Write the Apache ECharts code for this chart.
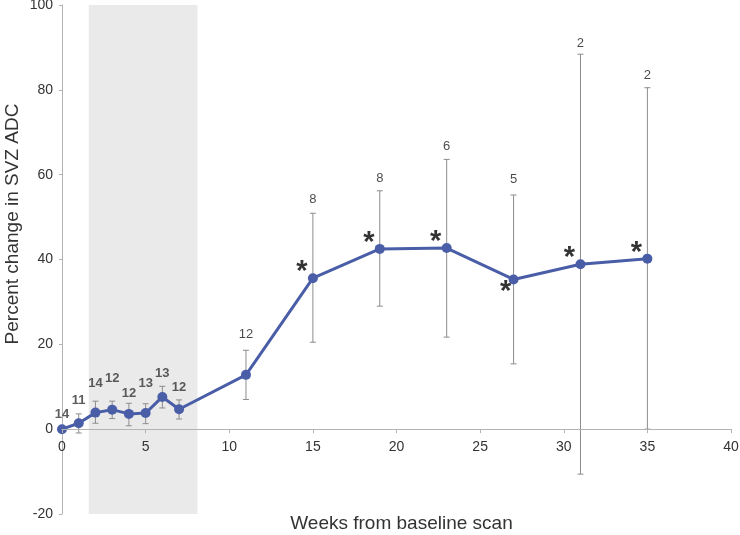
<!DOCTYPE html>
<html><head><meta charset="utf-8">
<script src="https://cdn.jsdelivr.net/npm/echarts@6/dist/echarts.min.js"></script>
<style>html,body{margin:0;padding:0;background:#fff}#c{width:740px;height:535px}</style>
</head><body><div id="c"></div>
<script>
// ---- data ----
const weeks        = [0, 1, 2, 3, 4, 5, 6, 7, 11, 15, 19, 23, 27, 31, 35];
const meanChange   = [0, 1.4, 3.9, 4.6, 3.6, 3.8, 7.6, 4.7, 12.8, 35.6, 42.5, 42.7, 35.3, 38.9, 40.2];
const errLow       = [0, -0.9, 1.4, 2.5, 0.8, 1.3, 5.0, 2.4, 7.0, 20.5, 29.0, 21.7, 15.4, -10.6, 0];
const errHigh      = [0, 3.6, 6.6, 6.6, 6.1, 6.0, 10.1, 6.9, 18.6, 50.9, 56.2, 63.6, 55.2, 88.4, 80.5];
const nSubjects    = [14, 11, 14, 12, 12, 13, 13, 12, 12, 8, 8, 6, 5, 2, 2];
const significant  = [0, 0, 0, 0, 0, 0, 0, 0, 0, 1, 1, 1, 1, 1, 1];
const shadedWeeks  = [1.6, 8.1];
const xTicks       = [0, 40, 5];
const yTicks       = [-20, 100, 20];
const xTitle       = 'Weeks from baseline scan';
const yTitle       = 'Percent change in SVZ ADC';

// ---- styling / layout (not data) ----
const FONT = '"Liberation Sans", Arial, Helvetica, sans-serif';
const BLUE = '#4a5ea8';
const W = 740, H = 535;
const GRID = {left: 62, right: 9, top: 5, bottom: 21};
const labelGap = [8, 7, 11, 16, 3, 14, 6, 6, 9, 7, 6, 6, 9, 4, 6];
const starBelowIdx = 12;

// place the x axis where y = 0 (axis line, ticks and labels together)
const gridH = H - GRID.top - GRID.bottom;
const xAxisOffset = -((0 - yTicks[0]) / (yTicks[1] - yTicks[0])) * gridH;

const chart = echarts.init(document.getElementById('c'), null, {renderer: 'canvas'});

const pts = weeks.map((w, i) => [w, meanChange[i]]);
const errData = weeks.map((w, i) => [w, errLow[i], errHigh[i]]);
const countData = weeks.map((w, i) => ({
  value: [w, errHigh[i]],
  label: {
    distance: labelGap[i],
    fontWeight: i <= 7 ? 'bold' : 'normal',
    color: i <= 7 ? '#333' : '#1a1a1a',
    fontSize: 13
  }
}));
const starData = [];
weeks.forEach((w, i) => {
  if (significant[i]) {
    starData.push({
      value: [w, meanChange[i]],
      label: {offset: i === starBelowIdx ? [-8, 13] : [-11, -6]}
    });
  }
});

const option = {
  animation: false,
  backgroundColor: '#fff',
  grid: Object.assign({containLabel: false, outerBoundsMode: 'none'}, GRID),
  graphic: [{
    type: 'text', x: 12.5, y: 224, rotation: Math.PI / 2, silent: true,
    style: {text: yTitle, fill: '#333', font: '19px ' + FONT,
      textAlign: 'center', textVerticalAlign: 'middle'}
  }],
  xAxis: {
    type: 'value', min: xTicks[0], max: xTicks[1], interval: xTicks[2],
    z: 10,
    position: 'bottom',
    offset: xAxisOffset,
    axisLine: {onZero: false, lineStyle: {color: '#b3b3b3', width: 1}},
    axisTick: {show: true, length: 4, lineStyle: {color: '#b3b3b3'}},
    splitLine: {show: false},
    axisLabel: {color: '#333', fontSize: 14, fontFamily: FONT, margin: 11},
    name: xTitle,
    nameLocation: 'middle', nameGap: 85,
    nameTextStyle: {color: '#333', fontSize: 19, fontFamily: FONT, padding: [0, 0, 0, 10]}
  },
  yAxis: {
    type: 'value', min: yTicks[0], max: yTicks[1], interval: yTicks[2],
    axisLine: {show: true, onZero: false, lineStyle: {color: '#b3b3b3', width: 1}},
    axisTick: {show: true, length: 3, lineStyle: {color: '#b3b3b3'}},
    splitLine: {show: false},
    axisLabel: {color: '#333', fontSize: 14, fontFamily: FONT, margin: 9}
  },
  series: [
    {
      type: 'custom', name: 'err', z: 2,
      renderItem: function (params, api) {
        const x = api.value(0);
        const lo = api.coord([x, api.value(1)]);
        const hi = api.coord([x, api.value(2)]);
        if (Math.abs(lo[1] - hi[1]) < 0.5) return null;
        const cw = 3;
        const st = {stroke: '#8c8c8c', lineWidth: 1};
        return {
          type: 'group',
          children: [
            {type: 'line', shape: {x1: lo[0], y1: lo[1], x2: hi[0], y2: hi[1]}, style: st},
            {type: 'line', shape: {x1: lo[0] - cw, y1: lo[1], x2: lo[0] + cw, y2: lo[1]}, style: st},
            {type: 'line', shape: {x1: hi[0] - cw, y1: hi[1], x2: hi[0] + cw, y2: hi[1]}, style: st}
          ]
        };
      },
      encode: {x: 0, y: [1, 2]},
      data: errData
    },
    {
      type: 'line', name: 'mean', z: 3,
      data: pts,
      symbol: 'circle', symbolSize: 10,
      lineStyle: {color: BLUE, width: 3},
      itemStyle: {color: BLUE}
    },
    {
      type: 'scatter', name: 'n', z: 4,
      symbolSize: 0,
      data: countData,
      label: {show: true, position: 'top', fontFamily: FONT,
        formatter: p => String(nSubjects[p.dataIndex])}
    },
    {
      type: 'scatter', name: 'stars', z: 4,
      symbolSize: 0,
      data: starData,
      label: {show: true, position: 'inside', formatter: '*', color: '#000',
        fontSize: 29, fontWeight: 'bold', fontFamily: FONT}
    },
    {
      type: 'line', name: 'shade', z: 5, data: [], silent: true,
      markArea: {
        silent: true,
        itemStyle: {color: 'rgba(205,205,205,0.42)'},
        data: [[{xAxis: shadedWeeks[0], yAxis: yTicks[0]}, {xAxis: shadedWeeks[1], yAxis: yTicks[1]}]]
      }
    }
  ]
};
chart.setOption(option);
</script>
</body></html>
